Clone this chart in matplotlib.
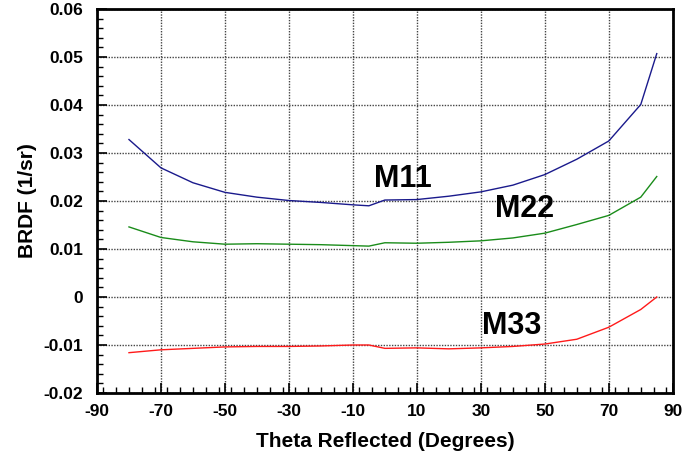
import matplotlib
matplotlib.use('Agg')
import matplotlib.pyplot as plt
from matplotlib.ticker import MultipleLocator

plt.rcParams['font.family'] = ['Liberation Sans', 'DejaVu Sans']
plt.rcParams['font.weight'] = 'bold'
plt.rcParams['axes.unicode_minus'] = False

theta = [-80, -70, -60, -50, -40, -30, -20, -10, -5, 0, 10, 20, 30, 40, 50, 60, 70, 80, 85]

m11 = [0.0328, 0.0269, 0.0238, 0.0218, 0.0208, 0.0201, 0.0197, 0.0192, 0.0190, 0.0202,
       0.0203, 0.0210, 0.0219, 0.0233, 0.0255, 0.0287, 0.0325, 0.0401, 0.0507]
m22 = [0.0146, 0.0124, 0.0115, 0.0110, 0.0111, 0.0110, 0.0109, 0.0107, 0.0106, 0.0113,
       0.0112, 0.0114, 0.0117, 0.0123, 0.0133, 0.0151, 0.0170, 0.0208, 0.0251]
m33 = [-0.0116, -0.0110, -0.0107, -0.0104, -0.0103, -0.0103, -0.0102, -0.0100, -0.0100, -0.0107,
       -0.0106, -0.0108, -0.0106, -0.0103, -0.0098, -0.0088, -0.0063, -0.0026, 0.0000]

labels = ['M11', 'M22', 'M33']
label_pos = [(-3.4, 0.0229), (34.4, 0.0167), (30.5, -0.0078)]


def main():
    fig = plt.figure(figsize=(6.83, 4.61), dpi=100)
    ax = fig.add_axes([0.142, 0.1475, 0.843, 0.833])

    ax.plot(theta, m11, color='#1a1a8c', lw=1.0)
    ax.plot(theta, m22, color='#1a8c1a', lw=1.0)
    ax.plot(theta, m33, color='#ff1a1a', lw=1.0)

    for txt, (x, y) in zip(labels, label_pos):
        ax.text(x, y, txt, fontsize=22, fontweight='bold', ha='left', va='baseline')

    ax.set_xlim(-90, 90)
    ax.set_ylim(-0.02, 0.06)
    ax.xaxis.set_major_locator(MultipleLocator(20))
    ax.xaxis.set_minor_locator(MultipleLocator(4))
    ax.yaxis.set_major_locator(MultipleLocator(0.01))
    ax.yaxis.set_minor_locator(MultipleLocator(0.002))
    ax.set_xticks(range(-90, 91, 20))
    ax.set_yticks([-0.02, -0.01, 0, 0.01, 0.02, 0.03, 0.04, 0.05, 0.06])
    ax.set_yticklabels(['-0.02', '-0.01', '0', '0.01', '0.02', '0.03', '0.04', '0.05', '0.06'])

    ax.tick_params(which='both', direction='in', labelsize=12.5, top=False, right=False)
    ax.tick_params(which='major', length=7, width=1.2)
    ax.tick_params(which='minor', length=4, width=1.0)
    ax.tick_params(axis='y', pad=10)
    ax.tick_params(axis='x', pad=8)
    for lab in ax.get_xticklabels() + ax.get_yticklabels():
        lab.set_fontweight('bold')

    for s in ax.spines.values():
        s.set_linewidth(2)

    ax.grid(which='major', color='#444444', ls=(0, (1, 1)), lw=1)

    ax.set_xlabel('Theta Reflected (Degrees)', fontsize=15, fontweight='bold', labelpad=9)
    ax.set_ylabel('BRDF (1/sr)', fontsize=15, fontweight='bold', labelpad=5)

    fig.savefig('out.png', dpi=100)


if __name__ == "__main__":
    main()
